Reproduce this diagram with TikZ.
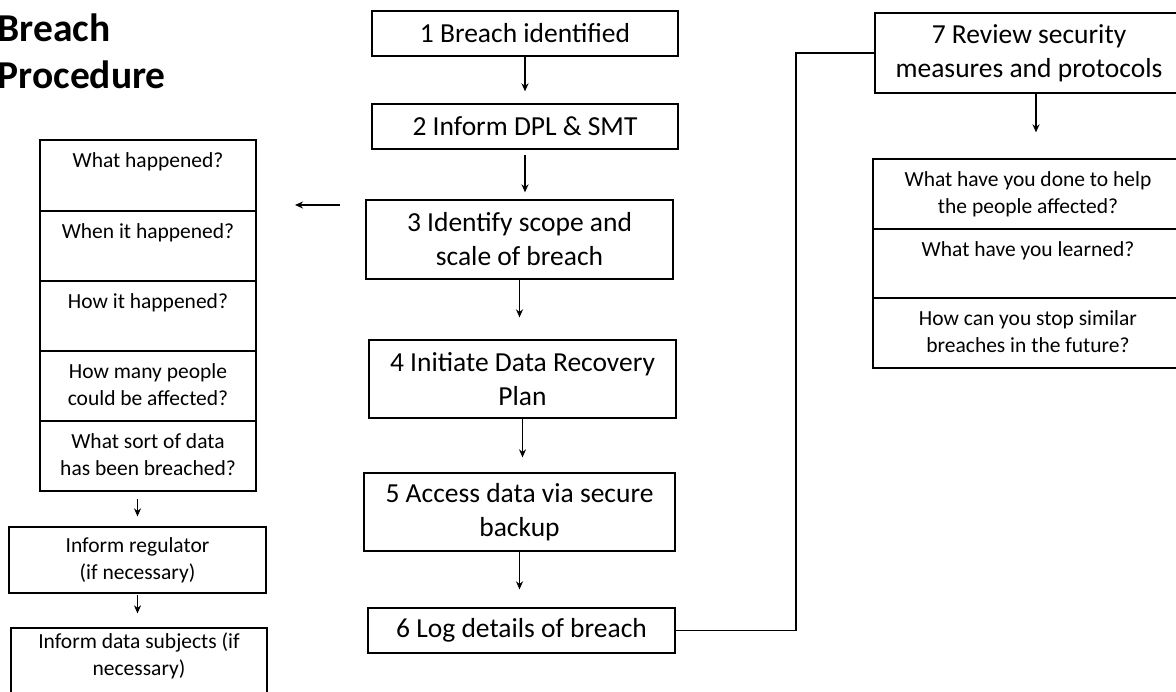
\documentclass[tikz,border=0pt]{standalone}
\usepackage{fontspec}
\setmainfont{Carlito}
\usetikzlibrary{arrows.meta,calc}
\tikzset{
  mainfont/.style={font=\fontsize{27.5}{34}\selectfont},
  smallfont/.style={font=\fontsize{21.5}{27}\selectfont},
  box/.style={draw, line width=1.3pt, align=center, inner sep=0pt, mainfont},
  sbox/.style={draw, line width=1.3pt, align=center, inner sep=0pt, smallfont},
  cell/.style={draw, line width=1.3pt, inner sep=0pt},
  celltxt/.style={anchor=north, align=center, inner sep=0pt, smallfont, yshift=-13.5pt},
  arr/.style={line width=1.4pt, -{Stealth[length=8pt,width=7pt]}},
  link/.style={line width=1.1pt},
  titletxt/.style={anchor=north west, align=left, inner sep=0pt, font=\fontsize{39.5}{46.5}\selectfont\bfseries}
}
\begin{document}
\begin{tikzpicture}[x=1pt,y=-1pt]
\useasboundingbox (0,0) rectangle (1176,692);
\clip (0,0) rectangle (1176,692);
\fill[white] (0,0) rectangle (1176,692);

% title
\node[titletxt] (title) at (-2.5,14) {Breach\\Procedure};

% centre column
\node[box, minimum width=306pt, minimum height=45pt] (b1) at (525,33.5) {1 Breach identified};
\node[box, minimum width=306pt, minimum height=45pt] (b2) at (525,126.5) {2 Inform DPL \& SMT};
\node[box, minimum width=307pt, minimum height=79pt] (b3) at (519.5,239.5) {3 Identify scope and\\scale of breach};
\node[box, minimum width=307pt, minimum height=78pt] (b4) at (522.5,379) {4 Initiate Data Recovery\\Plan};
\node[box, minimum width=311pt, minimum height=78pt] (b5) at (519.5,512) {5 Access data via secure\\backup};
\node[box, minimum width=307pt, minimum height=45pt] (b6) at (521.5,630.5) {6 Log details of breach};

\draw[arr, shorten >=12pt] (b1.south) -- (b1.south |- b2.north);
\draw[arr, shorten <=5pt, shorten >=7pt] (b2.south) -- (b2.south |- b3.north);
\draw[arr, shorten >=22pt] (b3.south) -- (b3.south |- b4.north);
\draw[arr, shorten >=15pt] (b4.south) -- (b4.south |- b5.north);
\draw[arr, shorten >=18pt] (b5.south) -- (b5.south |- b6.north);

% free arrow pointing to the question list
\coordinate (la1) at (340,205);
\coordinate (la2) at (295,205);
\draw[arr] (la1) -- (la2);

% left question stack
\node[cell, minimum width=216pt, minimum height=71pt] (c1) at (148,175.5) {};
\node[cell, minimum width=216pt, minimum height=70pt] (c2) at (148,246) {};
\node[cell, minimum width=216pt, minimum height=70pt] (c3) at (148,316) {};
\node[cell, minimum width=216pt, minimum height=70pt] (c4) at (148,386) {};
\node[cell, minimum width=216pt, minimum height=70pt] (c5) at (148,456) {};
\node[celltxt] (t1) at (c1.north) {What happened?};
\node[celltxt] (t2) at (c2.north) {When it happened?};
\node[celltxt] (t3) at (c3.north) {How it happened?};
\node[celltxt] (t4) at (c4.north) {How many people\\could be affected?};
\node[celltxt] (t5) at (c5.north) {What sort of data\\has been breached?};

\node[sbox, minimum width=257pt, minimum height=66pt] (reg) at (137.5,560) {Inform regulator\\(if necessary)};
\node[cell, minimum width=256pt, minimum height=92pt] (subj) at (139,674) {};
\node[celltxt, yshift=8.5pt] (tsubj) at (subj.north) {Inform data subjects (if\\necessary)};

\draw[arr, shorten <=7pt, shorten >=10pt] (c5.south -| reg.north) -- (reg.north);
\draw[arr, shorten <=1pt, shorten >=14pt] (reg.south) -- (subj.north -| reg.south);

% right column
\node[box, minimum width=308pt, minimum height=80pt] (b7) at (1029,53) {7 Review security\\measures and protocols};
\coordinate (turn) at (796,0);
\draw[link] (b6.east) -- (b6.east -| turn) |- (b7.west);

\node[cell, minimum width=310pt, minimum height=70pt] (r1) at (1028,194) {};
\node[cell, minimum width=310pt, minimum height=69pt] (r2) at (1028,263.5) {};
\node[cell, minimum width=310pt, minimum height=70pt] (r3) at (1028,333) {};
\node[celltxt, yshift=0.5pt] (u1) at (r1.north) {What have you done to help\\the people affected?};
\node[celltxt, yshift=0.5pt] (u2) at (r2.north) {What have you learned?};
\node[celltxt] (u3) at (r3.north) {How can you stop similar\\breaches in the future?};

\draw[arr, shorten >=26pt] ([xshift=7pt]b7.south) -- ([xshift=7pt]b7.south |- r1.north);
\end{tikzpicture}
\end{document}
